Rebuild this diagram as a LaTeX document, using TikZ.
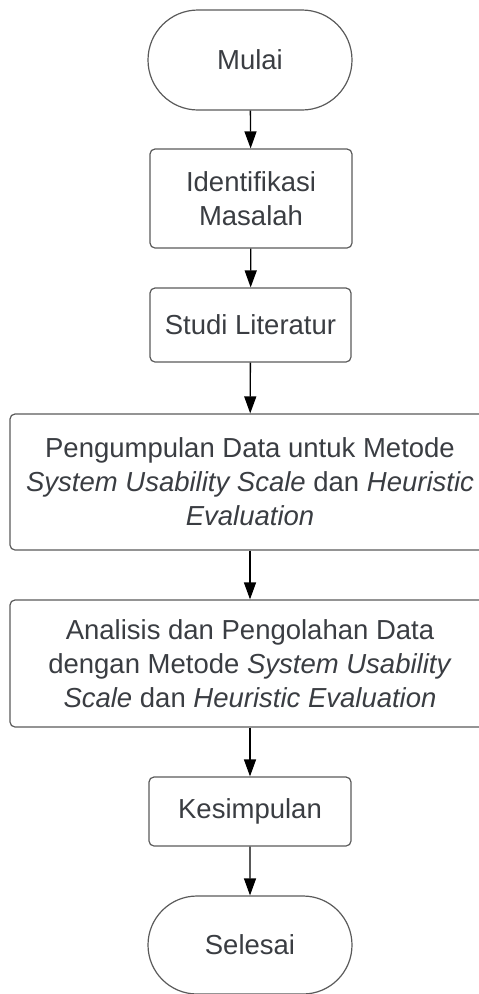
\documentclass[tikz,border=0pt]{standalone}
\usepackage{fontspec}
\setmainfont{Liberation Sans}
\usetikzlibrary{arrows.meta,shapes.misc}
\definecolor{txt}{HTML}{3A3D42}
\definecolor{edge}{HTML}{5A5A5A}
\tikzset{
  box/.style={draw=edge, line width=1.2pt, rounded corners=5pt, text=txt, align=center, font=\fontsize{27.5}{34}\selectfont, inner sep=0pt},
  term/.style={draw=edge, line width=1.2pt, rounded rectangle, text=txt, font=\fontsize{27.5}{34}\selectfont, inner sep=0pt},
  conn/.style={draw=black, line width=1.3pt, -{Triangle[width=12pt,length=17pt]}}
}
\begin{document}
\begin{tikzpicture}[x=1pt,y=1pt]
\useasboundingbox (0,0) rectangle (479,-994);
\node[term, minimum width=204pt, minimum height=100pt] (mulai) at (250,-60) {Mulai};
\node[box, minimum width=202pt, minimum height=99pt] (ident) at (251,-198.5) {Identifikasi\\Masalah};
\node[box, minimum width=201pt, minimum height=74pt] (studi) at (250.5,-325) {Studi Literatur};
\node[box, minimum width=480pt, minimum height=136pt] (kumpul) at (250,-482) {Pengumpulan Data untuk Metode\\\textit{System Usability Scale} dan \textit{Heuristic}\\\textit{Evaluation}};
\node[box, minimum width=480pt, minimum height=127pt] (analisis) at (250,-663.5) {Analisis dan Pengolahan Data\\dengan Metode \textit{System Usability}\\\textit{Scale} dan \textit{Heuristic Evaluation}};
\node[box, minimum width=202pt, minimum height=69pt] (simpul) at (250,-811.5) {Kesimpulan};
\node[term, minimum width=204pt, minimum height=98pt] (selesai) at (250,-945) {Selesai};
\draw[conn] (mulai) -- (ident);
\draw[conn] (ident) -- (studi);
\draw[conn] (studi) -- (kumpul);
\draw[conn] (kumpul) -- (analisis);
\draw[conn] (analisis) -- (simpul);
\draw[conn] (simpul) -- (selesai);
\end{tikzpicture}
\end{document}
